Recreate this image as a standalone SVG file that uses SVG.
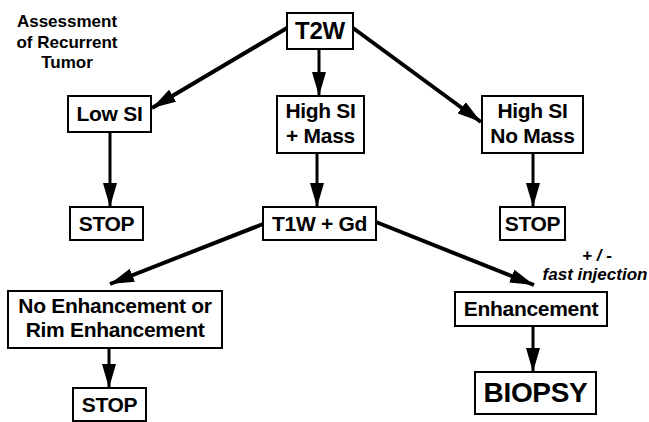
<svg xmlns="http://www.w3.org/2000/svg" width="649" height="422" viewBox="0 0 649 422">
<defs>
<style>
.box{fill:#fff;stroke:#000;stroke-width:2}
.t{font-family:"Liberation Sans",Arial,sans-serif;font-weight:bold;font-size:21px;letter-spacing:-0.3px;text-anchor:middle;fill:#000}
.title{font-size:17px;letter-spacing:0}
.note{font-style:italic;font-size:17px;letter-spacing:0}
.c{stroke:#000;stroke-width:4;fill:none}
.v{stroke-width:3}
</style>
<marker id="ah" viewBox="0 0 24 14" refX="24" refY="7" markerWidth="24" markerHeight="14" markerUnits="userSpaceOnUse" orient="auto">
<path d="M0,0 L24,7 L0,14 Z" fill="#000"/>
</marker>
</defs>
<rect width="649" height="422" fill="#fff"/>
<g id="title">
<text class="t title" x="67" y="27">Assessment</text>
<text class="t title" x="67" y="48">of Recurrent</text>
<text class="t title" x="67" y="68">Tumor</text>
</g>
<g id="connectors">
<line class="c" x1="287" y1="28" x2="152" y2="108" marker-end="url(#ah)"/>
<line class="c v" x1="319" y1="49" x2="319" y2="96" marker-end="url(#ah)"/>
<line class="c" x1="353" y1="28" x2="481" y2="122" marker-end="url(#ah)"/>
<line class="c v" x1="110" y1="132" x2="110" y2="207" marker-end="url(#ah)"/>
<line class="c v" x1="317" y1="153" x2="317" y2="207" marker-end="url(#ah)"/>
<line class="c v" x1="533" y1="153" x2="533" y2="207" marker-end="url(#ah)"/>
<line class="c" x1="263" y1="224" x2="110" y2="284" marker-end="url(#ah)"/>
<line class="c" x1="376" y1="222" x2="534" y2="285" marker-end="url(#ah)"/>
<line class="c v" x1="109" y1="348" x2="109" y2="388" marker-end="url(#ah)"/>
<line class="c v" x1="533" y1="326" x2="533" y2="372" marker-end="url(#ah)"/>
</g>
<g id="n-t2w">
<rect class="box" x="287" y="13" width="66" height="36"/>
<text class="t" x="320" y="39" style="font-size:24px">T2W</text>
</g>
<g id="n-lowsi">
<rect class="box" x="68" y="96" width="83" height="36"/>
<text class="t" x="109.5" y="121">Low SI</text>
</g>
<g id="n-highmass">
<rect class="box" x="277" y="96" width="87" height="57"/>
<text class="t" x="320.5" y="118">High SI</text>
<text class="t" x="320.5" y="143">+ Mass</text>
</g>
<g id="n-highnomass">
<rect class="box" x="482" y="96" width="101" height="57"/>
<text class="t" x="532.5" y="118">High SI</text>
<text class="t" x="532.5" y="143">No Mass</text>
</g>
<g id="n-stop1">
<rect class="box" x="70" y="207" width="73" height="33"/>
<text class="t" x="106.5" y="231">STOP</text>
</g>
<g id="n-t1w">
<rect class="box" x="263" y="207" width="113" height="33"/>
<text class="t" x="319.5" y="231">T1W + Gd</text>
</g>
<g id="n-stop2">
<rect class="box" x="500" y="207" width="65" height="33"/>
<text class="t" x="532.5" y="231">STOP</text>
</g>
<g id="n-noenh">
<rect class="box" x="8" y="291" width="214" height="57"/>
<text class="t" x="115" y="313">No Enhancement or</text>
<text class="t" x="115" y="337">Rim Enhancement</text>
</g>
<g id="n-stop3">
<rect class="box" x="73" y="388" width="73" height="33"/>
<text class="t" x="109.5" y="412">STOP</text>
</g>
<g id="label-fast">
<text class="t note" x="597" y="261">+ / -</text>
<text class="t note" x="595" y="280">fast injection</text>
</g>
<g id="n-enh">
<rect class="box" x="455" y="292" width="152" height="34"/>
<text class="t" x="531" y="316">Enhancement</text>
</g>
<g id="n-biopsy">
<rect class="box" x="475" y="372" width="121" height="42"/>
<text class="t" x="535.5" y="402" style="font-size:28px">BIOPSY</text>
</g>
</svg>
